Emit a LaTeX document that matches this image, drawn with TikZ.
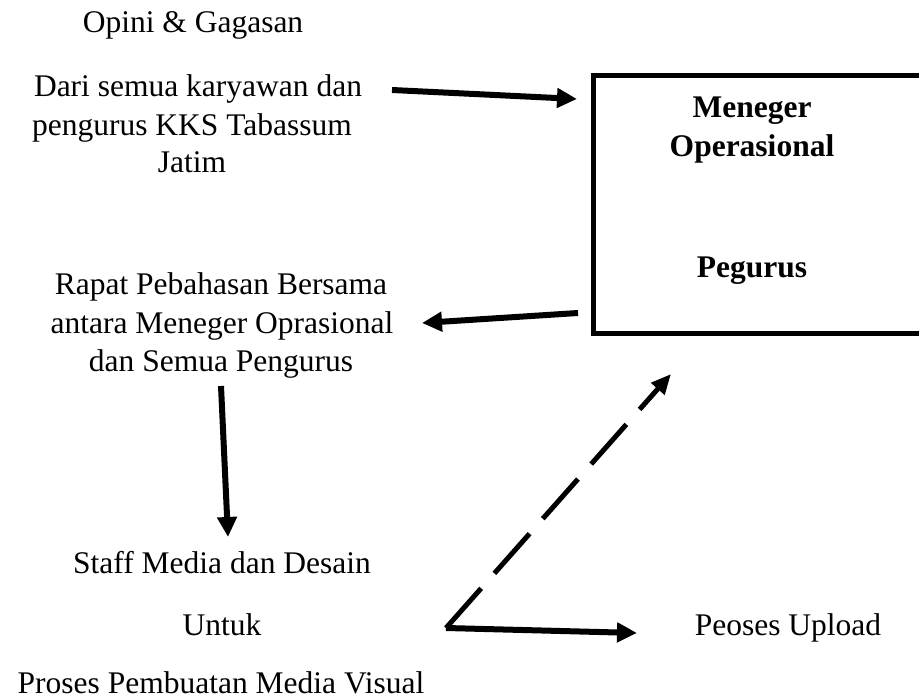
\documentclass[tikz,border=0pt]{standalone}
\usepackage{fontspec}
\setmainfont{Liberation Serif}
\usetikzlibrary{arrows.meta}
\begin{document}
\begin{tikzpicture}[x=1pt,y=-1pt,
  txt/.style={font=\fontsize{31.5}{38.5}\selectfont, anchor=base, inner sep=0pt},
  btxt/.style={txt, font=\fontsize{31.5}{38.5}\selectfont\bfseries},
  arr/.style={line width=6pt, -{Triangle[length=20pt,width=19pt]}},
  darr/.style={line width=5pt, dash pattern=on 53pt off 20pt, -{Triangle[length=20pt,width=17pt]}}]
\clip (0,0) rectangle (919,700);
\fill[white] (0,0) rectangle (919,700);
% box
\draw[line width=5.5pt] (593.5,75.5) rectangle (940,333.5);
\node[btxt] (m1) at (752,118) {Meneger};
\node[btxt] (m2) at (752,157) {Operasional};
\node[btxt] (pg) at (752,278) {Pegurus};
% top texts
\node[txt] (op) at (193,33) {Opini \& Gagasan};
\node[txt] (d1) at (198,97) {Dari semua karyawan dan};
\node[txt] (d2) at (192,136) {pengurus KKS Tabassum};
\node[txt] (d3) at (192,173) {Jatim};
% rapat
\node[txt] (r1) at (221,295) {Rapat Pebahasan Bersama};
\node[txt] (r2) at (222,334) {antara Meneger Oprasional};
\node[txt] (r3) at (221,372) {dan Semua Pengurus};
% bottom
\node[txt] (s1) at (222,573) {Staff Media dan Desain};
\node[txt] (s2) at (222,635) {Untuk};
\node[txt] (s3) at (221,693) {Proses Pembuatan Media Visual};
\node[txt] (up) at (788,635) {Peoses Upload};
% arrows
\coordinate (a1s) at (392,90);
\coordinate (a1e) at (577,99);
\coordinate (a2s) at (578,313);
\coordinate (a2e) at (422,323);
\coordinate (a3s) at (221,386);
\coordinate (a3e) at (228,537);
\coordinate (v) at (446,628);
\coordinate (dE) at (671,374);
\coordinate (sE) at (637,633);
\draw[arr] (a1s) -- (a1e);
\draw[arr] (a2s) -- (a2e);
\draw[arr] (a3s) -- (a3e);
\draw[darr] (v) -- (dE);
\draw[arr] (v) -- (sE);
\end{tikzpicture}
\end{document}
